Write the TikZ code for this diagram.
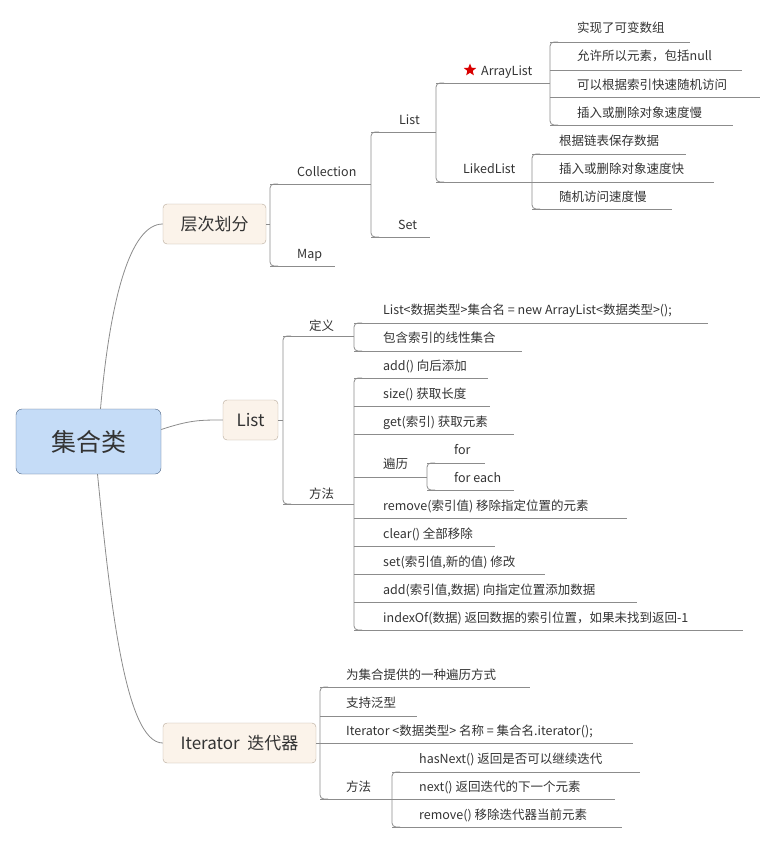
\documentclass[tikz,border=0pt]{standalone}
\usepackage{fontspec}
\setmainfont{Noto Sans CJK SC}
\usetikzlibrary{shapes.geometric, positioning}
\definecolor{linegray}{HTML}{8C8C8C}
\definecolor{textgray}{HTML}{333333}
\definecolor{rootblue}{HTML}{C5DCF7}
\definecolor{rootedge}{HTML}{4A6282}
\definecolor{topicfill}{HTML}{FBF3EA}
\definecolor{topicedge}{HTML}{B5A898}
\tikzset{
  leaf/.style={anchor=base west, inner sep=0pt, text=textgray, font=\fontsize{12.5}{14}\selectfont},
  topic/.style={rectangle, draw=topicedge, fill=topicfill, rounded corners=4pt, text=textgray, font=\fontsize{17}{20}\selectfont},
  wire/.style={draw=linegray, line width=0.8pt}
}
% bracket: x, top y, bottom y
\newcommand{\bracket}[3]{\draw[wire, rounded corners=4pt] (#1+8,#2) -- (#1,#2) -- (#1,#3) -- (#1+8,#3);}
\begin{document}
\begin{tikzpicture}[x=1pt, y=-1pt]
    \useasboundingbox (0,0) rectangle (777,843);
    % root and main topics
    \node[draw=rootedge, fill=rootblue, rounded corners=6pt, minimum width=145pt, minimum height=65pt, text=textgray, font=\fontsize{25}{28}\selectfont] (root) at (88.5,441.5) {集合类};
    \node[topic, minimum width=103pt, minimum height=40pt] (level) at (214.5,224) {层次划分};
    \node[topic, minimum width=55pt, minimum height=40pt] (list) at (250.5,420) {List};
    \node[topic, minimum width=153pt, minimum height=40pt] (iter) at (239.5,743) {Iterator\ \ 迭代器};

    \draw[wire] (root.north) ++(12,0) .. controls (110,300) and (130,224) .. (level.west);
    \draw[wire] (root.east) ++(0,-12) .. controls (190,420) and (200,420) .. (list.west);
    \draw[wire] (root.south) ++(9,0) .. controls (110,600) and (125,743) .. (iter.west);

    % underlines: bracket x / y / end x
    \foreach \bx/\y/\ex in {270/184/371, 270/266/335, 371/132/436, 371/237/430,
        436/83/550, 436/182/532,
        550/42/690, 550/70/742, 550/97/760, 550/125/733,
        532/154/686, 532/182/714, 532/209/672,
        283/336/354, 283/504/354,
        354/323/708, 354/351/522,
        354/378/488, 354/406/490, 354/434/514, 354/477/427, 427/463/485, 427/490/514,
        354/518/627, 354/546/495, 354/574/545, 354/602/637, 354/630/743,
        320/687/530, 320/716/417, 320/743/633, 320/799/392,
        392/772/640, 392/799/615, 392/827/622}
        \draw[wire] (\bx,\y) -- (\ex,\y);
    \bracket{270}{184}{266}
    \bracket{371}{132}{237}
    \bracket{436}{83}{182}
    \bracket{550}{42}{125}
    \bracket{532}{154}{209}
    \bracket{283}{336}{504}
    \bracket{354}{323}{351}
    \bracket{354}{378}{630}
    \bracket{427}{463}{490}
    \bracket{320}{687}{799}
    \bracket{392}{772}{827}
    \draw[wire] (level.east) -- (270,224);
    \draw[wire] (list.east) -- (283,420);
    \draw[wire] (iter.east) -- (320,743);

    % texts: x / baseline y / text
    \foreach \x/\y/\t in {297/176/Collection, 297/258/Map, 399/124/List, 398/229/Set,
        481/75/ArrayList, 463/173/LikedList,
        577/33/实现了可变数组, 577/61/{允许所以元素，包括null}, 577/89/可以根据索引快速随机访问, 577/117/插入或删除对象速度慢,
        559/145/根据链表保存数据, 559/173/插入或删除对象速度快, 559/201/随机访问速度慢,
        309/330/定义, 309/498/方法,
        383/314/{List<数据类型>集合名 = new ArrayList<数据类型>();}, 383/342/包含索引的线性集合,
        383/370/add()\ 向后添加, 383/398/size()\ 获取长度, 383/426/get(索引)\ 获取元素, 383/468/遍历,
        454/454/for, 454/482/for each,
        383/510/remove(索引值)\ 移除指定位置的元素, 383/538/clear()\ 全部移除, 383/566/{set(索引值,新的值)\ 修改},
        383/594/{add(索引值,数据)\ 向指定位置添加数据}, 383/622/{indexOf(数据)\ 返回数据的索引位置，如果未找到返回-1},
        346/679/为集合提供的一种遍历方式, 346/707/支持泛型, 346/735/{Iterator <数据类型>\ 名称 = 集合名.iterator();}, 346/791/方法,
        419/763/hasNext()\ 返回是否可以继续迭代, 419/791/next()\ 返回迭代的下一个元素, 419/819/remove()\ 移除迭代器当前元素}
        \node[leaf] at (\x,\y) {\t};
    \node[star, star points=5, star point ratio=2.3, fill=red!85!black, minimum size=13pt, inner sep=0pt] (mark) at (470,70) {};
\end{tikzpicture}
\end{document}
